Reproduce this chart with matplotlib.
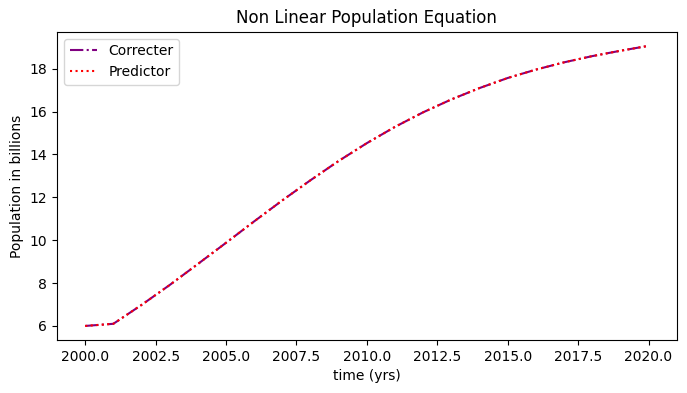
'''Non linear population equation: predictor-corrector comparison.'''

# ----------------------------------------------------------------------------
# Modules
from matplotlib import pyplot as plt

# ----------------------------------------------------------------------------
# Data

years = [2000, 2001, 2002, 2003, 2004, 2005, 2006, 2007, 2008, 2009, 2010,
         2011, 2012, 2013, 2014, 2015, 2016, 2017, 2018, 2019, 2020]
correcter = [6.00, 6.10, 6.98, 7.91, 8.89, 9.88, 10.88, 11.86, 12.80, 13.70,
             14.53, 15.29, 15.97, 16.57, 17.10, 17.57, 17.96, 18.30, 18.59,
             18.84, 19.07]
predictor = [6.00, 6.10, 6.98, 7.91, 8.89, 9.88, 10.88, 11.86, 12.80, 13.70,
             14.53, 15.29, 15.97, 16.57, 17.10, 17.57, 17.96, 18.30, 18.59,
             18.84, 19.07]

# ----------------------------------------------------------------------------


def main():
    """Plots the population curves and saves them in out.png."""

    figure = plt.figure(figsize=(6.87, 3.93), dpi=100)
    ax = figure.add_subplot(111)
    plt.plot(years, correcter, '-.', color='purple', label='Correcter')
    plt.plot(years, predictor, ':', color='red', label='Predictor')
    plt.legend(loc='upper left')
    plt.title('Non Linear Population Equation')
    plt.xlabel('time (yrs)')
    plt.ylabel('Population in billions')
    figure.subplots_adjust(left=0.083, right=0.985, top=0.919, bottom=0.135)

    plt.savefig('out.png')

    return None

# -----------------------------------------------------------------------------


if __name__ == '__main__':
    main()
